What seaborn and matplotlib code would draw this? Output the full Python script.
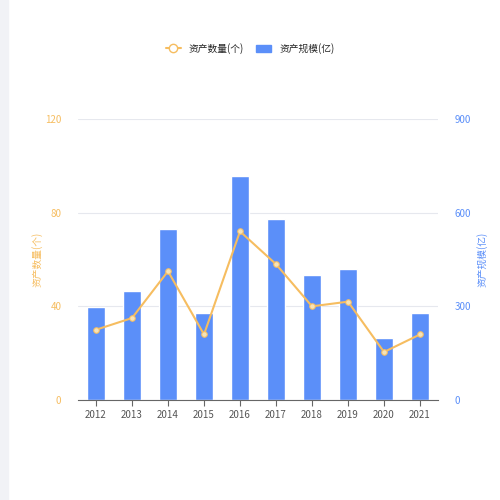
import matplotlib
matplotlib.use("Agg")
import matplotlib.pyplot as plt
import seaborn as sns
import pandas as pd
from matplotlib.lines import Line2D
from matplotlib.patches import Patch

years = ["2012","2013","2014","2015","2016","2017","2018","2019","2020","2021"]
counts = [30, 35, 55, 28, 72, 58, 40, 42, 20.5, 28]
scale = [298, 349, 548, 279, 717, 580, 400, 419, 199, 279]

sns.set_style("white")
plt.rcParams['font.family'] = ['Noto Sans CJK SC', 'DejaVu Sans']

fig = plt.figure(figsize=(5,5), dpi=100)
fig.patches.append(plt.Rectangle((0,0),0.016,1,transform=fig.transFigure,color="#f1f2f6",zorder=-1))
ax = fig.add_axes([0.156, 0.2, 0.72, 0.562])
ax2 = ax.twinx()
df = pd.DataFrame({"year": years, "count": counts, "scale": scale})
sns.barplot(data=df, x="year", y="scale", ax=ax2, color="#5b8ff9", width=0.5, saturation=1)
ax2.set_ylim(0, 900)
ax.set_ylim(0, 120)
ax.set_xlim(-0.5, 9.5)
ax2.set_xlim(-0.5, 9.5)
ax.set_zorder(ax2.get_zorder()+1); ax.patch.set_visible(False)
sns.lineplot(x=list(range(10)), y=counts, ax=ax, color="#f6bd60", lw=1.5, marker="o",
             markersize=4, markerfacecolor="#f6e3b8", markeredgecolor="#f6bd60")
ax.set_xticks(range(10)); ax.set_xticklabels(years, fontsize=7, color="#555")
ax.set_yticks([0,40,80,120]); ax.set_yticklabels(["0","40","80","120"], fontsize=7, color="#f6bd60")
ax2.set_yticks([0,300,600,900]); ax2.set_yticklabels(["0","300","600","900"], fontsize=7, color="#5b8ff9")
for a in (ax, ax2):
    a.tick_params(axis="y", length=0, pad=12)
    for s in ["top","right","left"]: a.spines[s].set_visible(False)
    a.set_xlabel("")
ax2.spines["bottom"].set_visible(False)
ax.spines["bottom"].set_color("#666")
ax.tick_params(axis="x", length=4, color="#666", bottom=True)
ax2.grid(axis="y", color="#e6e8ee", lw=0.8); ax2.set_axisbelow(True)
ax.set_ylabel("资产数量(个)", fontsize=7, color="#f6bd60", labelpad=2)
ax2.set_ylabel("资产规模(亿)", fontsize=7, color="#5b8ff9", labelpad=4)
handles = [Line2D([0],[0], color="#f6bd60", marker="o", markerfacecolor="white", markersize=6, lw=1.5),
           Patch(color="#5b8ff9")]
fig.legend(handles, ["资产数量(个)", "资产规模(亿)"], loc="center", bbox_to_anchor=(0.5, 0.903),
           ncol=2, frameon=False, fontsize=7, handlelength=1.6, columnspacing=1.2)
fig.savefig("out.png", dpi=100)
